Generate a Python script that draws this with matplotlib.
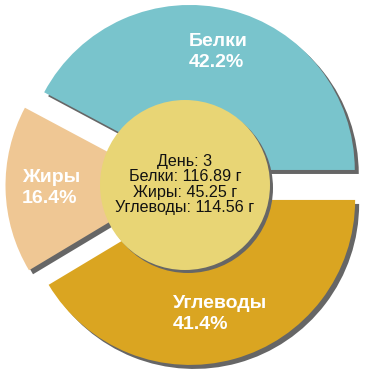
import matplotlib.pyplot as plt
from matplotlib.patches import Circle

# values
labels = ['Белки', 'Жиры', 'Углеводы']
shares = [42.2, 16.4, 41.4]
grams = [116.89, 45.25, 114.56]
day = 3
colors = ['#79c4cc', '#efc794', '#daa521']

plt.rcParams['font.family'] = ['Liberation Sans', 'DejaVu Sans']

fig = plt.figure(figsize=(3.7, 3.7), dpi=100)
ax = fig.add_axes([0, 0, 1, 1])

cx, cy, R = 186, 185, 165
expl = [15.5] * 3  # pie explode is in data units here
sh = 4  # shadow offset in px

# shadow first, then the slices
ax.pie(shares, explode=expl, startangle=0, counterclock=True,
       center=(cx + sh, cy - sh), radius=R, colors=['#666666'] * 3,
       wedgeprops=dict(linewidth=0))
ax.pie(shares, explode=expl, startangle=0, counterclock=True,
       center=(cx, cy), radius=R, colors=colors,
       wedgeprops=dict(linewidth=0))

# centre disc
ax.add_patch(Circle((cx + 2, cy - 3), 85, color='#666666', lw=0, zorder=3))
ax.add_patch(Circle((cx - 1, cy), 85, color='#e8d575', lw=0, zorder=4))

center_txt = f'День: {day}\n' + '\n'.join(
    f'{n}: {g:.2f} г' for n, g in zip(labels, grams))
ax.text(cx - 1, cy + 0.5, center_txt, ha='center', va='center', fontsize=11.6,
        linespacing=1.03, color='#111111', zorder=5)

# slice labels (left aligned, pixel positions from the picture)
label_pos = [(189, 318), (22, 182), (173, 56)]
for (x, y), n, s in zip(label_pos, labels, shares):
    ax.text(x, y, f'{n}\n{s}%', ha='left', va='center', fontsize=14,
            fontweight='bold', color='white', linespacing=1.3, zorder=5)

ax.set_xlim(0, 370)
ax.set_ylim(0, 370)
ax.set_aspect('equal')
ax.axis('off')

plt.savefig('out.png', dpi=100)
